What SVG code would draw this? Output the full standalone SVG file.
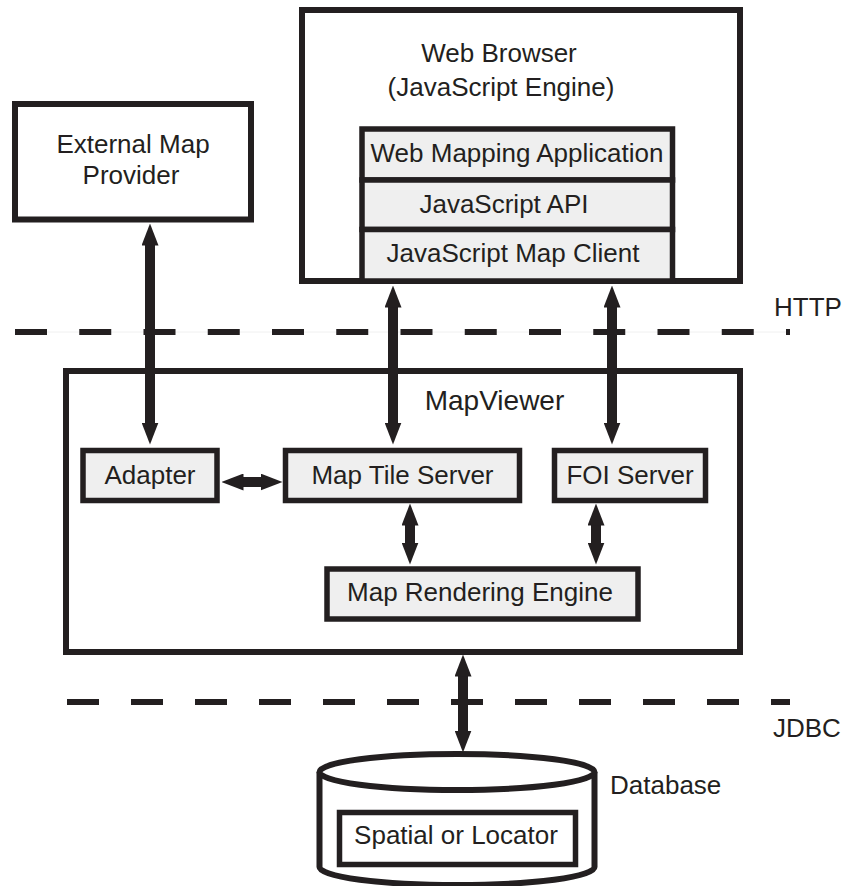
<svg xmlns="http://www.w3.org/2000/svg" width="843" height="886" viewBox="0 0 843 886">
  <style>
    .t { font-family: "Liberation Sans", Arial, Helvetica, sans-serif; font-size: 26px; fill: #231f20; }
    .mid { text-anchor: middle; }
    .box { fill: #ffffff; stroke: #231f20; stroke-width: 6; }
    .sub { fill: #efefef; stroke: #231f20; stroke-width: 5.5; }
    .conn { stroke: #231f20; stroke-width: 10; fill: none; marker-start: url(#ah); marker-end: url(#ah); }
    .dash { stroke: #231f20; stroke-width: 6; fill: none; }
  </style>
  <defs>
    <marker id="ah" markerUnits="userSpaceOnUse" markerWidth="22" markerHeight="17" refX="0.5" refY="8.5" orient="auto-start-reverse">
      <path d="M0,0 L22,8.5 L0,17 Z" fill="#231f20"/>
    </marker>
  </defs>
  <rect width="843" height="886" fill="#ffffff"/>

  <g id="boundaries">
    <line x1="15" y1="332" x2="790" y2="332" stroke="#f0f0f0" stroke-width="1"/>
    <line class="dash" x1="15" y1="332" x2="790" y2="332" stroke-dasharray="32 32.25"/>
    <line class="dash" x1="67" y1="702" x2="790" y2="702" stroke-dasharray="32 32"/>
    <text class="t" x="774" y="316">HTTP</text>
    <text class="t" x="773" y="737">JDBC</text>
  </g>

  <g id="web-browser">
    <rect class="box" x="302" y="10" width="438" height="271"/>
    <text class="t mid" x="499" y="62">Web Browser</text>
    <text class="t mid" x="501" y="96">(JavaScript Engine)</text>
  </g>
  <g id="web-mapping-application">
    <rect class="sub" x="362" y="129" width="310.5" height="51"/>
    <text class="t mid" x="517" y="162">Web Mapping Application</text>
  </g>
  <g id="javascript-api">
    <rect class="sub" x="362" y="180" width="310.5" height="49.5"/>
    <text class="t mid" x="504" y="213">JavaScript API</text>
  </g>
  <g id="javascript-map-client">
    <rect class="sub" x="362" y="229.5" width="310.5" height="51.5"/>
    <text class="t mid" x="513" y="262">JavaScript Map Client</text>
  </g>

  <g id="external-map-provider">
    <rect class="box" x="15" y="104" width="236" height="115.5"/>
    <text class="t mid" x="133" y="153">External Map</text>
    <text class="t mid" x="131" y="184">Provider</text>
  </g>

  <g id="mapviewer">
    <rect class="box" x="66" y="371" width="674" height="281"/>
    <text class="t mid" x="494.5" y="410" style="font-size:28px">MapViewer</text>
  </g>
  <g id="adapter">
    <rect class="sub" x="83" y="450.5" width="134" height="50"/>
    <text class="t mid" x="150" y="484">Adapter</text>
  </g>
  <g id="map-tile-server">
    <rect class="sub" x="285.5" y="450.5" width="234" height="50"/>
    <text class="t mid" x="402.5" y="484">Map Tile Server</text>
  </g>
  <g id="foi-server">
    <rect class="sub" x="554.5" y="450.5" width="151" height="50"/>
    <text class="t mid" x="630" y="484">FOI Server</text>
  </g>
  <g id="map-rendering-engine">
    <rect class="sub" x="327" y="569" width="311" height="50"/>
    <text class="t mid" x="480" y="601">Map Rendering Engine</text>
  </g>

  <g id="database">
    <path d="M319.5,772 L319.5,867 A137.5,18 0 0 0 594.5,867 L594.5,772" fill="#ffffff" stroke="#231f20" stroke-width="6"/>
    <ellipse cx="457" cy="772" rx="137.5" ry="18" fill="#ffffff" stroke="#231f20" stroke-width="6"/>
    <text class="t" x="610" y="794">Database</text>
  </g>
  <g id="spatial-or-locator">
    <rect x="339.5" y="812.5" width="236" height="52" fill="#ffffff" stroke="#231f20" stroke-width="5.5"/>
    <text class="t mid" x="456" y="844">Spatial or Locator</text>
  </g>

  <g id="connectors">
    <line class="conn" x1="150" y1="245" x2="150" y2="423"/>
    <line class="conn" x1="393" y1="307" x2="393" y2="423"/>
    <line class="conn" x1="612" y1="307" x2="612" y2="423"/>
    <line class="conn" x1="243" y1="482" x2="261" y2="482"/>
    <line class="conn" x1="410" y1="525" x2="410" y2="543"/>
    <line class="conn" x1="596" y1="525" x2="596" y2="543"/>
    <line class="conn" x1="463" y1="676" x2="463" y2="731"/>
  </g>
</svg>
